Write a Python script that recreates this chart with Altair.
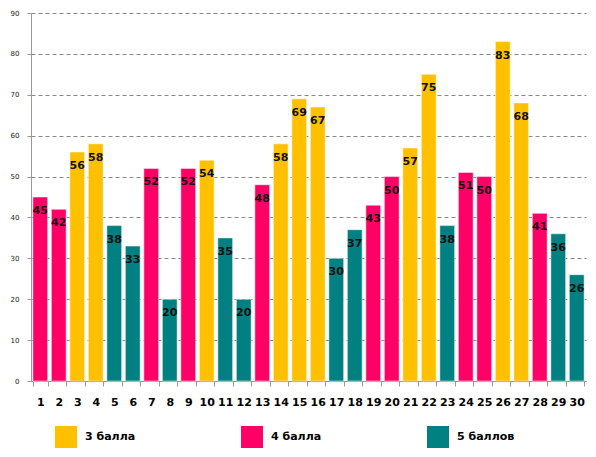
import altair as alt
import pandas as pd

# Task numbers, share of correct answers (%) and the grade group of each task
tasks = list(range(1, 31))
values = [45, 42, 56, 58, 38, 33, 52, 20, 52, 54,
          35, 20, 48, 58, 69, 67, 30, 37, 43, 50,
          57, 75, 38, 51, 50, 83, 68, 41, 36, 26]
groups = ["4 балла", "4 балла", "3 балла", "3 балла", "5 баллов", "5 баллов",
          "4 балла", "5 баллов", "4 балла", "3 балла", "5 баллов", "5 баллов",
          "4 балла", "3 балла", "3 балла", "3 балла", "5 баллов", "5 баллов",
          "4 балла", "4 балла", "3 балла", "3 балла", "5 баллов", "4 балла",
          "4 балла", "3 балла", "3 балла", "4 балла", "5 баллов", "5 баллов"]

group_names = ["3 балла", "4 балла", "5 баллов"]
group_colors = ["#FFC000", "#FF0066", "#008080"]

df = pd.DataFrame({"task": tasks, "value": values, "group": groups})

FONT = "DejaVu Sans"

x = alt.X(
    "task:O",
    sort=tasks,
    scale=alt.Scale(paddingInner=0.2, paddingOuter=0.1),
    axis=alt.Axis(
        title=None, labelAngle=0, labelFont=FONT, labelFontSize=11,
        labelFontWeight="bold", labelColor="#000", labelPadding=10,
        tickBand="extent", tickSize=5, tickColor="#999", domainColor="#999",
    ),
)
y = alt.Y(
    "value:Q",
    scale=alt.Scale(domain=[0, 90], nice=False),
    axis=alt.Axis(
        title=None, values=list(range(0, 91, 10)), labelFont=FONT,
        labelFontSize=7, labelColor="#222", labelPadding=8,
        tickSize=4, tickColor="#999", domainColor="#999",
        grid=True, gridColor="#888", gridDash=[4, 3], gridWidth=1,
    ),
)

bars = alt.Chart(df).mark_bar(stroke="white", strokeWidth=0.5).encode(
    x=x,
    y=y,
    color=alt.Color(
        "group:N",
        scale=alt.Scale(domain=group_names, range=group_colors),
        legend=alt.Legend(
            title=None, orient="none", legendX=24, legendY=413,
            direction="horizontal", columns=3, gridAlign="all",
            columnPadding=98, symbolType="square", symbolSize=484,
            symbolStrokeWidth=0, labelFont=FONT, labelFontSize=11,
            labelFontWeight="bold", labelColor="#000", labelOffset=8,
            padding=0,
        ),
    ),
)

labels = alt.Chart(df).mark_text(
    baseline="middle", dy=14, font=FONT, fontSize=11,
    fontWeight="bold", color="#111",
).encode(x=x, y=y, text="value:Q")

chart = (
    alt.layer(bars, labels)
    .properties(
        width=555, height=368,
        autosize=alt.AutoSizeParams(type="none"),
        padding={"left": 31, "top": 13, "right": 10, "bottom": 76},
        background="white",
    )
    .configure_view(stroke=None)
)

chart.save("out.html", embed_options={"renderer": "svg", "actions": False})
